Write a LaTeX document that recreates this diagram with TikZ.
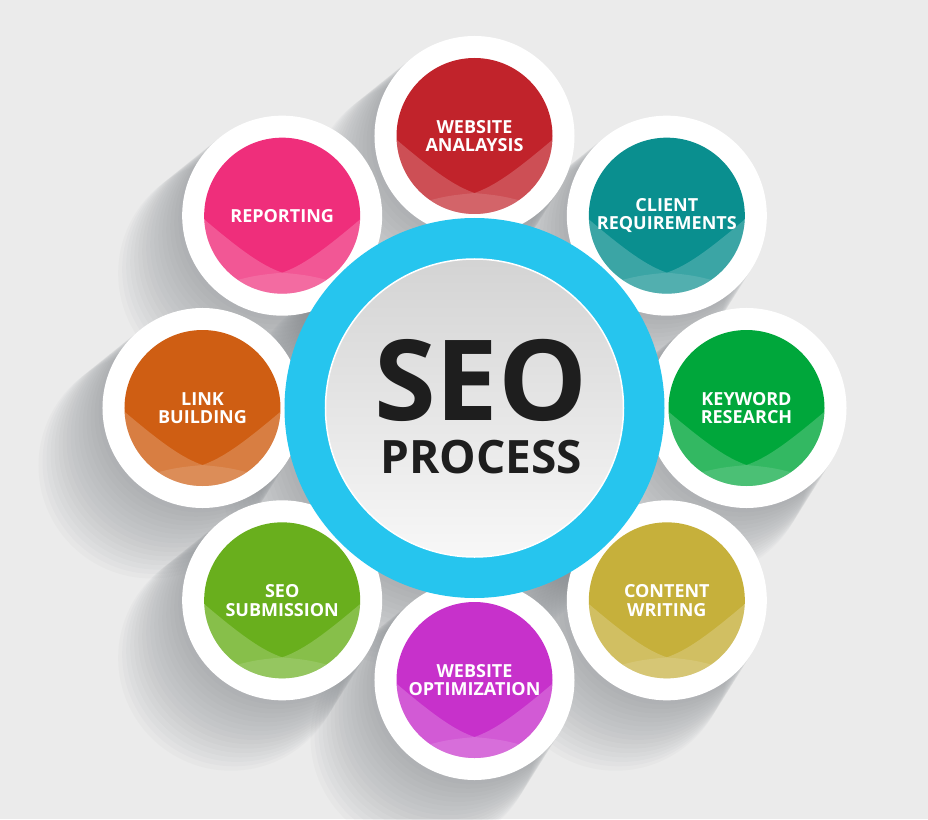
\documentclass[tikz,border=0pt]{standalone}
\usepackage{fontspec}
\setmainfont{Open Sans}
\usetikzlibrary{positioning, calc}
\definecolor{pageGray}{HTML}{EBEBEB}
\definecolor{shadeGray}{HTML}{7A7F84}
\definecolor{ringBlue}{HTML}{26C5EE}
\definecolor{hubText}{HTML}{1E1E1E}
\definecolor{analysisRed}{HTML}{C1232B}
\definecolor{clientTeal}{HTML}{0A8F8F}
\definecolor{keywordGreen}{HTML}{00A73B}
\definecolor{contentOlive}{HTML}{C6B03B}
\definecolor{optimMagenta}{HTML}{C731CB}
\definecolor{submitGreen}{HTML}{69AF1D}
\definecolor{linkOrange}{HTML}{CF5E13}
\definecolor{reportPink}{HTML}{EF2E7B}
\pgfdeclarelayer{background}
\pgfsetlayers{background,main}

\begin{document}
\begin{tikzpicture}[
    x=1pt, y=1pt,
    petal/.style={circle, minimum size=156pt, inner sep=0pt, fill=#1, text=white, align=center,
      font=\fontsize{18}{18.5}\selectfont\bfseries,
      preaction={draw=white, line width=44pt},
      path picture={
        \path (path picture bounding box.center) coordinate (pc);
        \fill[white, opacity=.2] ($(pc)+(-80,-2)$) .. controls ($(pc)+(-40,-36)$) and ($(pc)+(-20,-50)$) .. ($(pc)+(0,-57)$)
          .. controls ($(pc)+(20,-50)$) and ($(pc)+(40,-36)$) .. ($(pc)+(80,-2)$) -- ($(pc)+(80,-80)$) -- ($(pc)+(-80,-80)$) -- cycle;
        \fill[white, opacity=.12] ($(pc)+(-80,-74)$) .. controls ($(pc)+(-30,-60)$) .. ($(pc)+(0,-57)$)
          .. controls ($(pc)+(30,-60)$) .. ($(pc)+(80,-74)$) -- ($(pc)+(80,-80)$) -- ($(pc)+(-80,-80)$) -- cycle;
      }},
    hubword/.style={text=hubText, inner sep=0pt, text depth=0pt, anchor=base}
  ]
  \useasboundingbox (-474.5,-411) rectangle (453.5,408);
  \coordinate (hubc) at (0,0);

  % Steps around the hub
  \node[petal=analysisRed] (analysis) at ($(hubc)+(90:272)$) {WEBSITE\\ANALAYSIS};
  \node[petal=clientTeal] (client) at ($(hubc)+(45:272)$) {CLIENT\\REQUIREMENTS};
  \node[petal=keywordGreen] (keyword) at ($(hubc)+(0:272)$) {KEYWORD\\RESEARCH};
  \node[petal=contentOlive] (content) at ($(hubc)+(-45:272)$) {CONTENT\\WRITING};
  \node[petal=optimMagenta] (optim) at ($(hubc)+(-90:272)$) {WEBSITE\\OPTIMIZATION};
  \node[petal=submitGreen] (submit) at ($(hubc)+(-135:272)$) {SEO\\SUBMISSION};
  \node[petal=linkOrange] (link) at ($(hubc)+(180:272)$) {LINK\\BUILDING};
  \node[petal=reportPink] (report) at ($(hubc)+(135:272)$) {REPORTING};

  % Center hub, on top of the steps
  \node[circle, minimum size=380pt, inner sep=0pt, fill=ringBlue] (hub) at (hubc) {};
  \node[circle, minimum size=298pt, inner sep=0pt, draw=white, line width=1.5pt,
    top color=black!17, bottom color=black!3] (disc) at (hub) {};
  \node[hubword, font=\fontsize{112}{112}\selectfont\bfseries] (seoword) at ($(hub)+(6.5,-12)$) {SEO};
  \node[hubword, font=\fontsize{46}{46}\selectfont\bfseries] (processword) at ($(seoword.base)+(0,-53)$) {PROCESS};

  % Page and soft shadows
  \begin{pgfonlayer}{background}
    \fill[pageGray] (-474.5,-411) rectangle (453.5,408);
    \foreach \n/\r in {hub/190, analysis/100, client/100, keyword/100, content/100,
                       optim/100, submit/100, link/100, report/100}
      \foreach \k in {1,...,16}
        \fill[shadeGray, opacity=.04] ($(\n.center)+(-\k*3.2,-\k*3.6)$) circle[radius=\r+\k*0.8];
  \end{pgfonlayer}

\end{tikzpicture}
\end{document}
